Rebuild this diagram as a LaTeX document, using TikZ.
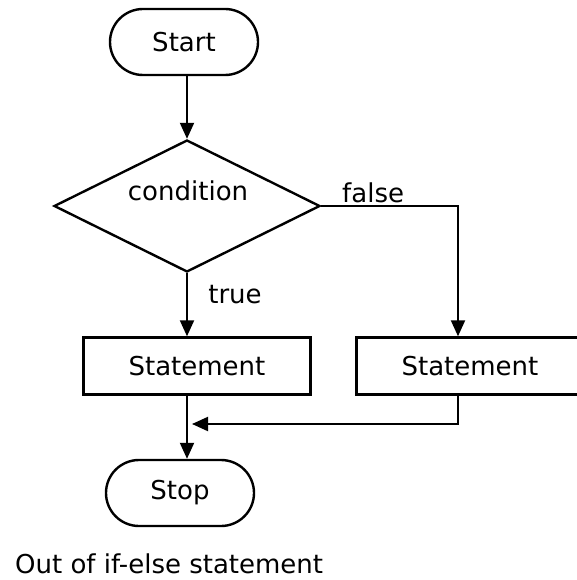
\documentclass[tikz,border=0pt]{standalone}
\usepackage{fontspec}
\setmainfont{DejaVu Sans}
\usetikzlibrary{shapes.geometric,arrows.meta}

\begin{document}
\begin{tikzpicture}[x=1pt,y=-1pt]
\tikzstyle{every node}+=[inner sep=0pt,font=\fontsize{26}{30}\selectfont]
\tikzstyle{terminal}=[draw,line width=2.4pt,rounded corners=33pt,minimum width=148pt,minimum height=66pt]
\tikzstyle{decision}=[draw,diamond,line width=2.4pt,minimum width=266pt,minimum height=132pt]
\tikzstyle{process}=[draw,line width=2.4pt,minimum width=227pt,minimum height=57pt]
\tikzstyle{line}=[line width=2pt,-{Triangle[length=16pt,width=14pt]}]
\clip (0,0) rectangle (577,580);
\node [terminal] (start) at (184,42) {Start};
\node [decision] (cond) at (187,206) {};
\node (condtext) at (188,191) {condition};
\node [process] (s1) at (197,366) {Statement};
\node [process] (s2) at (470,366) {Statement};
\node [terminal] (stop) at (180,493) {Stop};
\coordinate (join) at (192,424);
\draw [line] (start.south -| cond.north) -- (cond.north);
\draw [line] (cond.south) -- (cond.south |- s1.north);
\node (true) at (235,295) {true};
\draw [line] (cond.east) -| ([xshift=-12pt]s2.north);
\node [anchor=base west] (false) at (342,202) {false};
\draw [line] ([xshift=-12pt]s2.south) |- (join);
\draw [line] (s1.south -| cond.south) -- (stop.north -| cond.south);
\node [anchor=base west] (note) at (15,573) {Out of if-else statement};
\end{tikzpicture}
\end{document}
